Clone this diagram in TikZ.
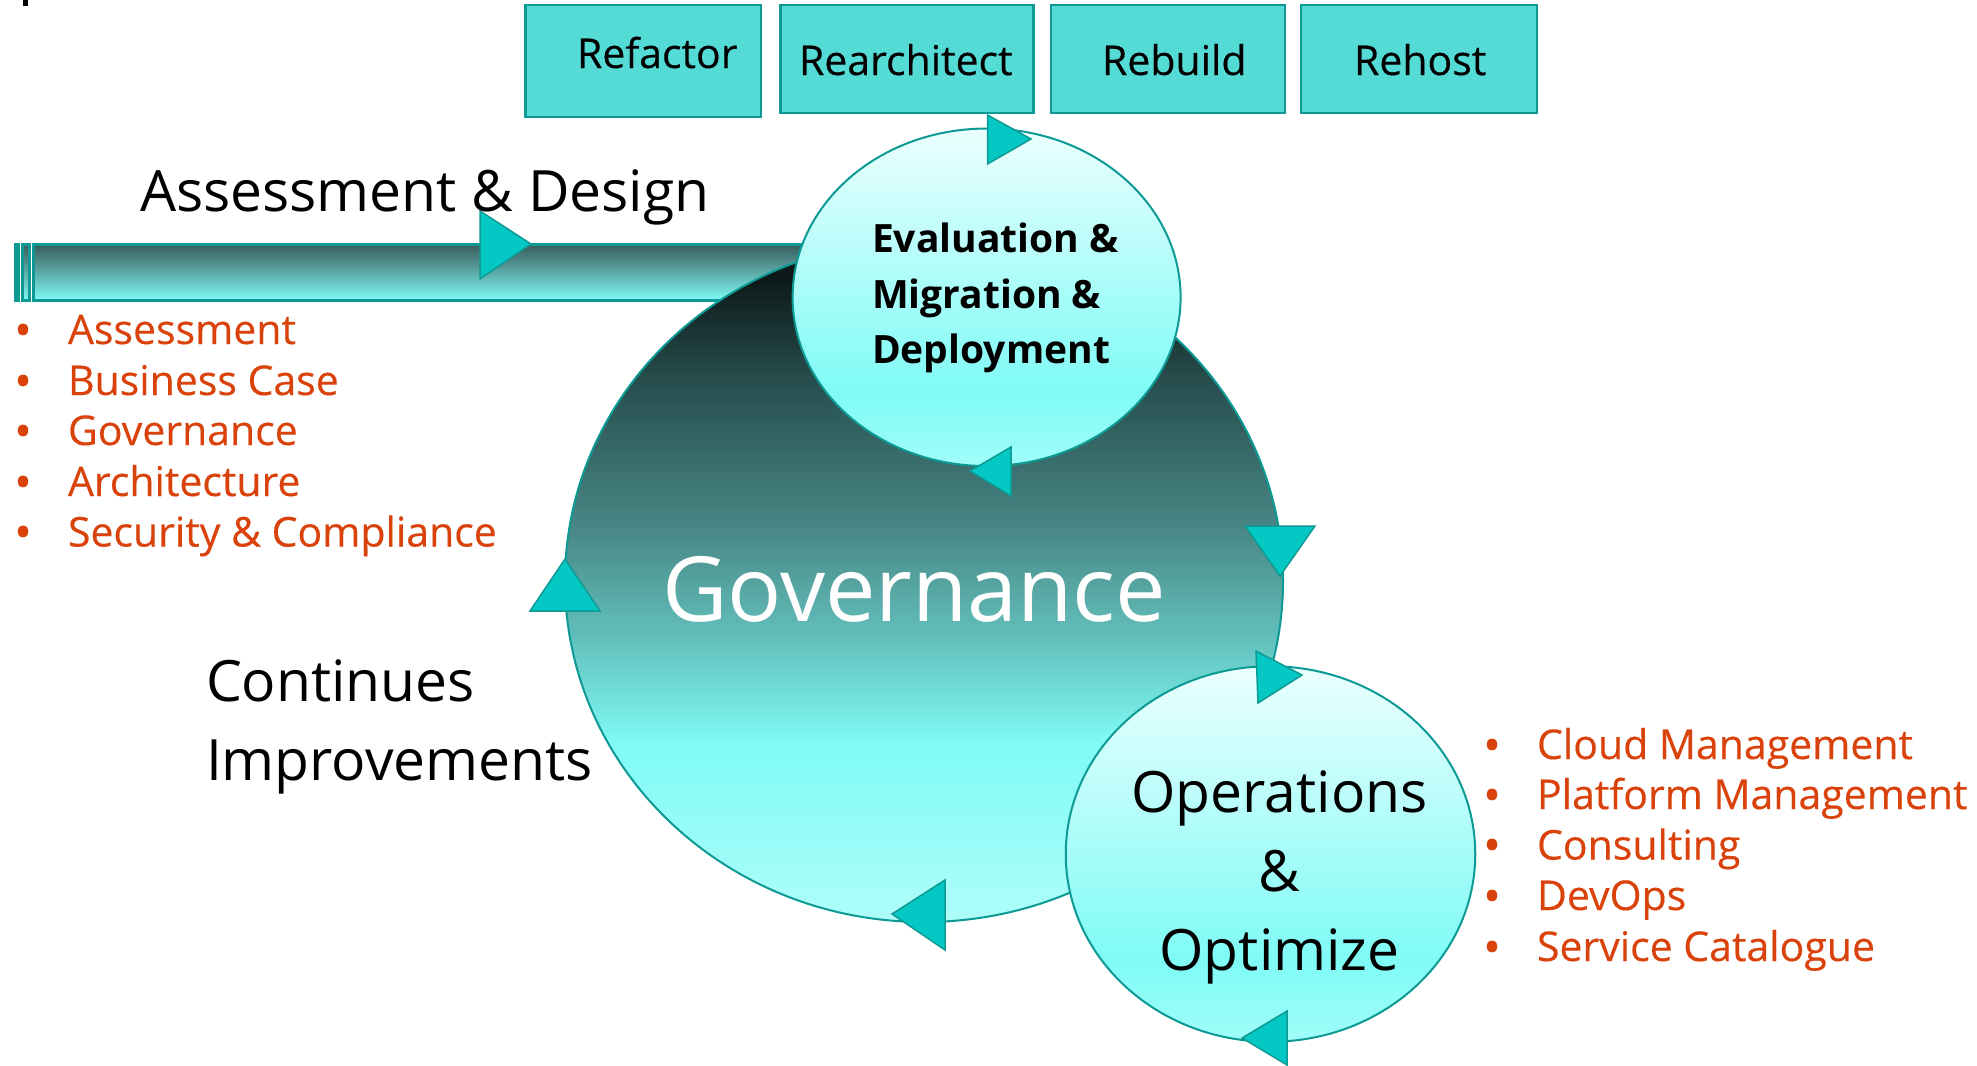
\documentclass[tikz,border=0pt]{standalone}
\usepackage{fontspec}
\setmainfont{Open Sans}
\newfontfamily\medfont[FakeBold=0.35]{Open Sans}
\usetikzlibrary{shapes.geometric}
\definecolor{edgeteal}{HTML}{0E9A94}
\definecolor{boxfill}{HTML}{54DBD6}
\definecolor{trifill}{HTML}{05C8C4}
\definecolor{orangetxt}{HTML}{D9420B}
\definecolor{cyana}{RGB}{127,251,246}
\definecolor{cyanb}{RGB}{175,253,249}
\definecolor{cyanc}{RGB}{160,253,249}
\definecolor{cyand}{RGB}{235,255,254}
\definecolor{gra}{RGB}{98,190,186}
\definecolor{grb}{RGB}{72,135,133}
\definecolor{grc}{RGB}{38,76,76}
\definecolor{grd}{RGB}{14,26,26}
\definecolor{gre}{RGB}{10,20,20}
\definecolor{barton}{RGB}{58,92,92}
\pgfdeclareverticalshading{bigshade}{100bp}{
 color(0bp)=(cyanb);
 color(25bp)=(cyanb);
 color(38bp)=(cyana);
 color(46bp)=(gra);
 color(54bp)=(grb);
 color(65bp)=(grc);
 color(72bp)=(grd);
 color(100bp)=(gre)}
\pgfdeclareverticalshading{smallshade}{100bp}{
 color(0bp)=(cyanc);
 color(25bp)=(cyanc);
 color(36bp)=(cyana);
 color(75bp)=(cyand);
 color(100bp)=(cyand)}
\pgfdeclareverticalshading{barshade}{100bp}{
 color(0bp)=(cyana);
 color(25bp)=(cyana);
 color(75bp)=(barton);
 color(100bp)=(barton)}
\tikzset{
 x=1pt,y=-1pt,
 every node/.style={inner sep=0pt,outer sep=0pt},
 boxn/.style={draw=edgeteal,line width=2.5pt,fill=boxfill},
 tri/.style={draw=edgeteal,line width=1.5pt,fill=trifill,line join=miter},
 roundn/.style={ellipse,draw=edgeteal,line width=2pt},
 barseg/.style={draw=edgeteal,line width=3pt,shading=barshade},
 boxtxt/.style={anchor=base west,font=\medfont\fontsize{41}{48}\selectfont,text=black},
 listtxt/.style={anchor=base west,font=\medfont\fontsize{41}{48}\selectfont,text=orangetxt},
 bul/.style={anchor=base,font=\fontsize{48}{54}\selectfont,text=orangetxt},
 headtxt/.style={anchor=base west,font=\fontsize{57}{66}\selectfont,text=black},
 evaltxt/.style={anchor=base west,font=\bfseries\fontsize{39}{46}\selectfont},
 opstxt/.style={anchor=base,font=\fontsize{57}{66}\selectfont},
}
\begin{document}
\begin{tikzpicture}
\useasboundingbox (0,0) rectangle (1977,1065);
\fill (23,0) rectangle (28,6);
% boxes
\node[boxn,minimum width=235.5pt,minimum height=112pt] (b1) at (643.25,61) {};
\node[boxn,minimum width=253pt,minimum height=108pt] (b2) at (907,59) {};
\node[boxn,minimum width=234pt,minimum height=108pt] (b3) at (1168,59) {};
\node[boxn,minimum width=236pt,minimum height=108pt] (b4) at (1419,59) {};
\node[boxtxt] at (577,68) {Refactor};
\node[boxtxt] at (799,75) {Rearchitect};
\node[boxtxt] at (1102,75) {Rebuild};
\node[boxtxt] at (1354,75) {Rehost};
% bar
\draw[barseg] (33,244.5) rectangle (960,300.5);
\draw[barseg] (15,244.5) rectangle (18.5,300.5);
\draw[barseg] (22.5,244.5) rectangle (29,300.5);
% circles
\node[roundn,shading=bigshade,minimum width=718pt,minimum height=682pt] (big) at (924,581) {};
\node[roundn,shading=smallshade,minimum width=388pt,minimum height=337.5pt] (eval) at (986.6,297.3) {};
\node[roundn,shading=smallshade,minimum width=409.5pt,minimum height=375.5pt] (ops) at (1270.5,854) {};
% triangles
\draw[tri] (480,211) -- (531,244) -- (480,279) -- cycle;
\draw[tri] (987.5,115) -- (1031,139) -- (987.5,164) -- cycle;
\draw[tri] (970,471) -- (1011,447) -- (1011,496) -- cycle;
\draw[tri] (1245,526) -- (1315,526) -- (1280,576) -- cycle;
\draw[tri] (530,611) -- (600,611) -- (565,559) -- cycle;
\draw[tri] (1256,651) -- (1302,675) -- (1258,703) -- cycle;
\draw[tri] (1242,1038) -- (1287,1011) -- (1287,1065) -- cycle;
\draw[tri] (892,914) -- (945,880) -- (945,950) -- cycle;
% headings
\node[headtxt] at (140,211) {Assessment \& Design};
\node[headtxt] at (206,701) {Continues};
\node[headtxt] at (206,780) {Improvements};
\node[anchor=base west,font=\fontsize{90}{108}\selectfont,text=white] (gov) at (662,621) {Governance};
\node[evaltxt] at (872,252) {Evaluation \&};
\node[evaltxt] at (872,308) {Migration \&};
\node[evaltxt] at (872,363) {Deployment};
\node[opstxt] at (1279.5,812) {Operations};
\node[opstxt] at (1279.5,891) {\&};
\node[opstxt] at (1279.5,970) {Optimize};
% lists
\foreach \yy/\lbl in {344/Assessment,395/Business Case,445/Governance,496/Architecture,546.5/Security \& Compliance}{
 \node[bul] at (24,\yy+3) {•};
 \node[listtxt] at (68,\yy) {\lbl};
}
\foreach \yy/\lbl in {759/Cloud Management,809/Platform Management,859.5/Consulting,910/DevOps,961/Service Catalogue}{
 \node[bul] at (1493,\yy+3) {•};
 \node[listtxt] at (1537,\yy) {\lbl};
}
\end{tikzpicture}
\end{document}
